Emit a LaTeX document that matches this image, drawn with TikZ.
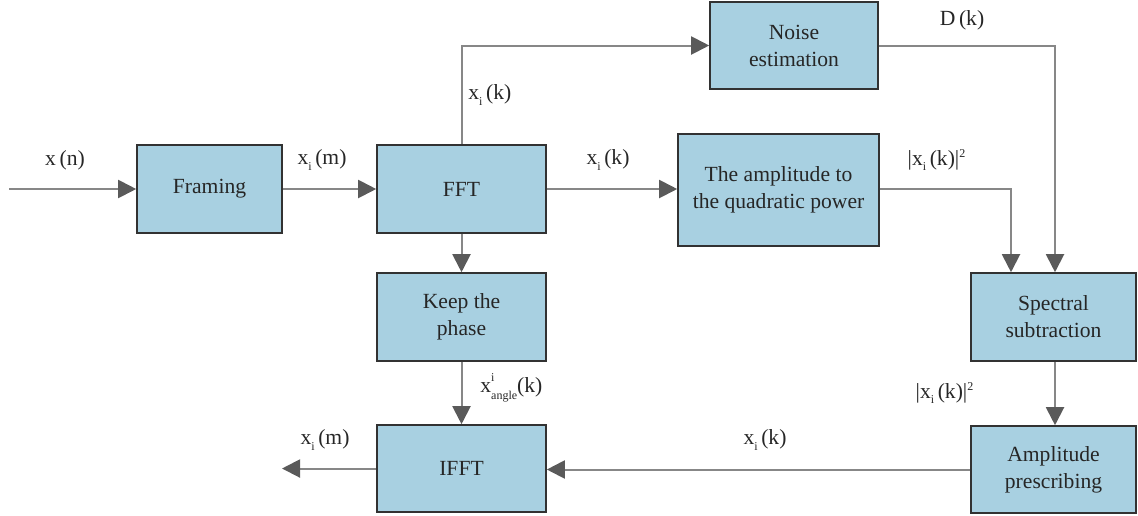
\documentclass[tikz,border=0pt]{standalone}
\usepackage{fontspec}
\setmainfont{Liberation Serif}
\usetikzlibrary{arrows.meta}
\definecolor{boxfill}{RGB}{168,208,225}
\definecolor{boxline}{RGB}{50,50,50}
\definecolor{wire}{RGB}{135,135,135}
\definecolor{tipgray}{RGB}{90,90,90}
% signal name x with a small lowered index i
\newcommand{\sig}[1]{x\raisebox{-0.55ex}{\fontsize{6}{6}\selectfont i}\,#1}
\tikzset{
  blk/.style={draw=boxline, line width=0.8pt, fill=boxfill, align=center,
    font=\fontsize{10.8}{13.5}\selectfont, text=black!85, inner sep=0pt},
  wireline/.style={draw=wire, line width=1pt},
  arr/.style={wireline, -{Triangle[length=9pt,width=9pt,color=tipgray]}},
  lbl/.style={font=\fontsize{10.8}{12}\selectfont, text=black!85, inner sep=0pt}
}
\begin{document}
\begin{tikzpicture}[x=0.5pt,y=-0.5pt]
\useasboundingbox (0,0) rectangle (1138,515);

% processing blocks
\node[blk, minimum width=72.5pt, minimum height=44pt]   (framing) at (209.5,189)  {Framing};
\node[blk, minimum width=84.5pt, minimum height=44pt]   (fft)     at (461.5,189)  {FFT};
\node[blk, minimum width=84pt,   minimum height=43.5pt] (noise)   at (794,45.5)   {Noise\\estimation};
\node[blk, minimum width=100.5pt,minimum height=56pt]   (amp)     at (778.5,190)  {The amplitude to\\the quadratic power};
\node[blk, minimum width=84.5pt, minimum height=44pt]   (keep)    at (461.5,317)  {Keep the\\phase};
\node[blk, minimum width=84.5pt, minimum height=43.5pt] (ifft)    at (461.5,468.5){IFFT};
\node[blk, minimum width=82.5pt, minimum height=44pt]   (spec)    at (1053.5,317) {Spectral\\subtraction};
\node[blk, minimum width=82.5pt, minimum height=43.5pt] (presc)   at (1053.5,469.5){Amplitude\\prescribing};

% free ends
\coordinate (in)  at (9,189);
\coordinate (out) at (282,468.5);

% connectors
\draw[arr] (in) -- (framing.west);
\draw[arr] (framing.east) -- (fft.west);
\draw[arr] (fft.north) |- (noise.west);
\draw[arr] (fft.east) -- (fft.east -| amp.west);
\draw[arr] (fft.east -| amp.east) -| ([xshift=-21.25pt]spec.north);
\draw[arr] (noise.east) -| ([xshift=0.75pt]spec.north);
\draw[arr] (fft.south) -- (keep.north);
\draw[arr] (keep.south) -- (ifft.north);
\draw[arr] ([xshift=0.75pt]spec.south) -- ([xshift=0.75pt]presc.north);
\draw[arr] (presc.west) -- (presc.west -| ifft.east);
\draw[arr] (ifft.west) -- (out);

% signal labels
\node[lbl] (lxn)   at (65,160)  {x\,(n)};
\node[lbl] (lxm)   at (322,160) {\sig{(m)}};
\node[lbl, anchor=west] (lxk1) at (468,95) {\sig{(k)}};
\node[lbl] (lxk2)  at (608,160) {\sig{(k)}};
\node[lbl] (lpow1) at (937,160) {|\sig{(k)}|\textsuperscript{\fontsize{6}{6}\selectfont 2}};
\node[lbl] (ldk)   at (962,20)  {D\,(k)};
\node[lbl, anchor=west] (lang) at (480,388)
  {x\rlap{\raisebox{1.1ex}{\fontsize{6}{6}\selectfont i}}\raisebox{-0.75ex}{\fontsize{6}{6}\selectfont angle}(k)};
\node[lbl] (lpow2) at (945,393) {|\sig{(k)}|\textsuperscript{\fontsize{6}{6}\selectfont 2}};
\node[lbl] (lxk3)  at (765,440) {\sig{(k)}};
\node[lbl] (lxm2)  at (325,440) {\sig{(m)}};
\end{tikzpicture}
\end{document}
